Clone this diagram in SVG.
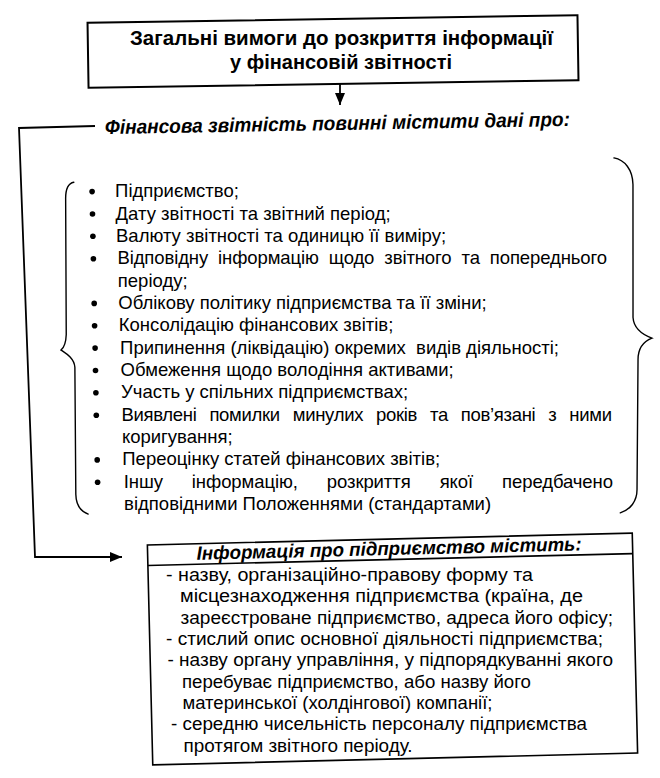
<svg xmlns="http://www.w3.org/2000/svg" width="660" height="778" viewBox="0 0 660 778">
<defs>
<style>
text{font-family:"Liberation Sans",Arial,sans-serif;fill:#000}
.title{font-weight:bold;font-size:19.5px;text-anchor:middle}
.sub{font-weight:bold;font-style:italic;font-size:20px}
.li{font-size:18.5px}
.bx{font-size:18.3px}
.hd{font-weight:bold;font-style:italic;font-size:19px}
.box{fill:#fff;stroke:#000}
.br{fill:none;stroke:#000;stroke-width:1.4;stroke-linecap:round}
.con{fill:none;stroke:#000;stroke-width:1.8}
</style>
<marker id="ah" viewBox="0 0 12 10" refX="12" refY="5" markerWidth="12" markerHeight="10" markerUnits="userSpaceOnUse" orient="auto">
<path d="M0,0 L12,5 L0,10 z" fill="#000"/>
</marker>
</defs>
<rect width="660" height="778" fill="#fff"/>

<g id="title">
<rect class="box" x="88" y="19" width="490" height="65" stroke-width="2" transform="rotate(-0.9 333 51)"/>
<text class="title" x="341.5" y="44.5" textLength="423" lengthAdjust="spacingAndGlyphs">Загальні вимоги до розкриття інформації</text>
<text class="title" x="341" y="69" textLength="222" lengthAdjust="spacingAndGlyphs">у фінансовій звітності</text>
</g>

<g id="subtitle">
<text class="sub" x="105" y="130" textLength="465" lengthAdjust="spacingAndGlyphs" transform="rotate(-1 340 129)">Фінансова звітність повинні містити дані про:</text>
</g>

<g id="list">
<g transform="rotate(-1.1 350 345)">
<path class="br" d="M77 177 C71 178 68.5 185 68.5 194 L66.5 329 C66 338 64 342 61 344.5 C66 348 74 353 74.5 362 L73 489 C73 500 77 506 85 509"/>
<path class="br" d="M617.5 163 C628 165 636 175 636 190 L633.5 323 C634 333 642 340 652 344 C644 347 638 353 637.7 365 L634.2 495 C634 507 627 515 617 518"/>
</g>
<g fill="#000">
<circle cx="92.1" cy="191.6" r="2.8"/>
<circle cx="92.5" cy="214" r="2.8"/>
<circle cx="92.9" cy="236.3" r="2.8"/>
<circle cx="93.4" cy="258.7" r="2.8"/>
<circle cx="94.2" cy="303.4" r="2.8"/>
<circle cx="94.6" cy="325.8" r="2.8"/>
<circle cx="95.1" cy="348.1" r="2.8"/>
<circle cx="95.5" cy="370.5" r="2.8"/>
<circle cx="95.9" cy="392.8" r="2.8"/>
<circle cx="96.3" cy="415.2" r="2.8"/>
<circle cx="97.2" cy="459.9" r="2.8"/>
<circle cx="97.6" cy="482.3" r="2.8"/>
</g>
<text class="li" x="115.1" y="197.1">Підприємство;</text>
<text class="li" x="115.6" y="219.5">Дату звітності та звітний період;</text>
<text class="li" x="116" y="241.8">Валюту звітності та одиницю її виміру;</text>
<text class="li" x="117.4" y="264.2" word-spacing="5" textLength="489.6" lengthAdjust="spacing">Відповідну інформацію щодо звітного та попереднього</text>
<text class="li" x="117.8" y="286.5">періоду;</text>
<text class="li" x="118.3" y="308.9">Облікову політику підприємства та її зміни;</text>
<text class="li" x="118.7" y="331.3">Консолідацію фінансових звітів;</text>
<text class="li" x="120.1" y="353.6" xml:space="preserve">Припинення (ліквідацію) окремих  видів діяльності;</text>
<text class="li" x="120.6" y="376">Обмеження щодо володіння активами;</text>
<text class="li" x="121" y="398.3">Участь у спільних підприємствах;</text>
<text class="li" x="121.4" y="420.7" word-spacing="8" textLength="490.6" lengthAdjust="spacing">Виявлені помилки минулих років та пов’язані з ними</text>
<text class="li" x="121.9" y="443.1">коригування;</text>
<text class="li" x="122.3" y="465.4">Переоцінку статей фінансових звітів;</text>
<text class="li" x="123.7" y="487.8" word-spacing="24" textLength="489.3" lengthAdjust="spacing">Іншу інформацію, розкриття якої передбачено</text>
<text class="li" x="124.1" y="510.1">відповідними Положеннями (стандартами)</text>
</g>

<g id="info">
<g transform="rotate(-1.4 392.5 649)">
<rect class="box" x="150" y="539" width="485" height="220" stroke-width="1.6"/>
<line x1="150" y1="559.5" x2="635" y2="559.5" stroke="#000" stroke-width="1.6"/>
<text class="hd" x="199" y="555" textLength="385" lengthAdjust="spacingAndGlyphs">Інформація про підприємство містить:</text>
</g>
<text class="bx" x="166" y="581" textLength="367" lengthAdjust="spacingAndGlyphs">- назву, організаційно-правову форму та</text>
<text class="bx" x="180" y="602.2" textLength="403" lengthAdjust="spacingAndGlyphs">місцезнаходження підприємства (країна, де</text>
<text class="bx" x="180.5" y="623.5" textLength="432.5" lengthAdjust="spacingAndGlyphs">зареєстроване підприємство, адреса його офісу;</text>
<text class="bx" x="166" y="644.8" textLength="437" lengthAdjust="spacingAndGlyphs">- стислий опис основної діяльності підприємства;</text>
<text class="bx" x="167.5" y="666.1" textLength="445.5" lengthAdjust="spacingAndGlyphs">- назву органу управління, у підпорядкуванні якого</text>
<text class="bx" x="182" y="687.5" textLength="349" lengthAdjust="spacingAndGlyphs">перебуває підприємство, або назву його</text>
<text class="bx" x="182.5" y="708.9" textLength="310" lengthAdjust="spacingAndGlyphs">материнської (холдінгової) компанії;</text>
<text class="bx" x="171" y="730.3" textLength="416" lengthAdjust="spacingAndGlyphs">- середню чисельність персоналу підприємства</text>
<text class="bx" x="183.5" y="751.7" textLength="229" lengthAdjust="spacingAndGlyphs">протягом звітного періоду.</text>
</g>

<g id="connectors">
<line class="con" x1="340" y1="84" x2="340" y2="105" marker-end="url(#ah)"/>
<polyline class="con" points="95,126 19,128 35,557 122,557" marker-end="url(#ah)"/>
</g>
</svg>
